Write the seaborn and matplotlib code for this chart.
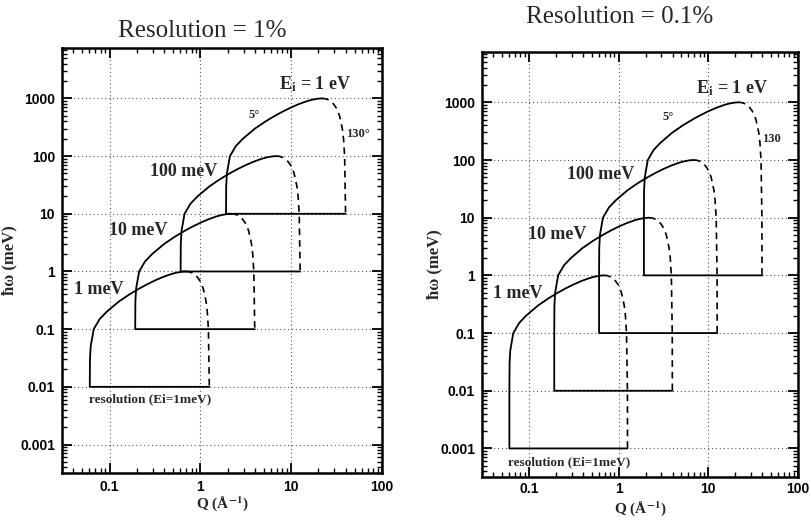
import matplotlib
matplotlib.use("Agg")
import matplotlib.pyplot as plt
import matplotlib.ticker as mticker
import seaborn as sns
import pandas as pd

# ---------------- data ----------------
incident_labels = ["1 meV", "10 meV", "100 meV", "E$_\\mathregular{i}$ = 1 eV"]

# 5 degree branch (solid): Q in 1/Angstrom, energy transfer in meV
q5_1 = [0.0606, 0.0606, 0.0609, 0.0620, 0.0670, 0.0780, 0.0931, 0.1263, 0.1654, 0.2097,
        0.2598, 0.3174, 0.3862, 0.4762, 0.5401, 0.6255, 0.6947]
w5_1 = [0.001, 0.01, 0.03, 0.05, 0.1, 0.15, 0.2, 0.3, 0.4, 0.5, 0.6, 0.7, 0.8, 0.9, 0.95, 0.99, 1.0]
q5_10 = [0.1918, 0.1918, 0.1926, 0.1961, 0.2119, 0.2467, 0.2944, 0.3994, 0.5231, 0.6632,
         0.8216, 1.0037, 1.2212, 1.5059, 1.7080, 1.9780, 2.1968]
w5_10 = [0.01, 0.1, 0.3, 0.5, 1, 1.5, 2, 3, 4, 5, 6, 7, 8, 9, 9.5, 9.9, 10]
q5_100 = [0.6065, 0.6065, 0.6090, 0.6200, 0.6700, 0.7800, 0.9309, 1.2630, 1.6541, 2.0973,
          2.5982, 3.1741, 3.8618, 4.7622, 5.4013, 6.2551, 6.947]
w5_100 = [0.1, 1, 3, 5, 10, 15, 20, 30, 40, 50, 60, 70, 80, 90, 95, 99, 100]
q5_1000 = [1.9178, 1.9178, 1.9260, 1.9610, 2.1190, 2.4670, 2.9437, 3.9938, 5.2306, 6.6321,
           8.2160, 10.037, 12.212, 15.059, 17.080, 19.780, 21.968]
w5_1000 = [1, 10, 30, 50, 100, 150, 200, 300, 400, 500, 600, 700, 800, 900, 950, 990, 1000]

# 130 degree branch (dashed)
q130_1 = [0.6947, 0.7412, 0.7616, 0.8034, 0.8527, 0.9255, 0.9835, 1.0334, 1.0782, 1.1574,
          1.1931, 1.2270, 1.2561, 1.2589]
w130_1 = [1.0, 0.99, 0.98, 0.95, 0.9, 0.8, 0.7, 0.6, 0.5, 0.3, 0.2, 0.1, 0.01, 0.001]
q130_10 = [2.1968, 2.3440, 2.4084, 2.5406, 2.6964, 2.9268, 3.1100, 3.2679, 3.4096, 3.6599,
           3.7730, 3.8802, 3.9720, 3.9810]
w130_10 = [10, 9.9, 9.8, 9.5, 9, 8, 7, 6, 5, 3, 2, 1, 0.1, 0.01]
q130_100 = [6.947, 7.412, 7.616, 8.034, 8.527, 9.255, 9.835, 10.334, 10.782, 11.574,
            11.931, 12.270, 12.561, 12.589]
w130_100 = [100, 99, 98, 95, 90, 80, 70, 60, 50, 30, 20, 10, 1, 0.1]
q130_1000 = [21.968, 23.440, 24.084, 25.406, 26.964, 29.268, 31.100, 32.679, 34.096, 36.599,
             37.730, 38.802, 39.720, 39.810]
w130_1000 = [1000, 990, 980, 950, 900, 800, 700, 600, 500, 300, 200, 100, 10, 1]

branch5 = [(q5_1, w5_1), (q5_10, w5_10), (q5_100, w5_100), (q5_1000, w5_1000)]
branch130 = [(q130_1, w130_1), (q130_10, w130_10), (q130_100, w130_100), (q130_1000, w130_1000)]

titles = ["Resolution = 1%", "Resolution = 0.1%"]
# index into each branch where the resolution floor lies (1% -> second point, 0.1% -> first point)
start_index = [1, 0]

x_ticks = [0.1, 1, 10, 100]
x_ticklabels = ["0.1", "1", "10", "100"]
y_ticks = [0.001, 0.01, 0.1, 1, 10, 100, 1000]
y_ticklabels = ["0.001", "0.01", "0.1", "1", "10", "100", "1000"]

# label positions (Q, E) for each panel
label_pos = [
    [(0.076, 0.49), (0.205, 5.1), (0.66, 55), (18.5, 1750)],
    [(0.076, 0.49), (0.205, 5.1), (0.63, 55), (18.5, 1750)],
]
angle_small_pos = [(3.9, 520), (3.6, 560)]
angle_large_pos = [(40, 240), (40, 230)]
angle_large_text = ["130°", "130"]
res_label_pos = [(0.28, 0.0062), (0.28, 0.00058)]

# ---------------- plotting ----------------
sns.set_theme(style="white")
plt.rcParams["font.family"] = ["Liberation Serif", "DejaVu Serif"]
plt.rcParams["mathtext.fontset"] = "stix"

fig = plt.figure(figsize=(8.12, 5.21), dpi=100)
axes = [fig.add_axes([0.0764, 0.092, 0.394, 0.816]),
        fig.add_axes([0.5936, 0.0845, 0.389, 0.816])]
ylabel_x = [-0.14, -0.125]
xlabel_y = [-0.05, -0.053]
xtick_pad = [5, 3.5]

for p, ax in enumerate(axes):
    s = start_index[p]
    for (q5, w5), (q130, w130) in zip(branch5, branch130):
        end = len(q130) - 1 - s  # last dashed point at the resolution floor
        # solid: horizontal floor + 5 degree branch
        qs = [q130[end]] + q5[s:]
        ws = [w5[s]] + w5[s:]
        df_s = pd.DataFrame({"Q": qs, "E": ws})
        sns.lineplot(data=df_s, x="Q", y="E", sort=False, estimator=None, ax=ax,
                     color="black", linewidth=1.3)
        df_d = pd.DataFrame({"Q": q130[:end + 1], "E": w130[:end + 1]})
        sns.lineplot(data=df_d, x="Q", y="E", sort=False, estimator=None, ax=ax,
                     color="black", linewidth=1.2, linestyle=(0, (4, 3)))

    ax.set_xscale("log")
    ax.set_yscale("log")
    ax.set_xlim(0.03, 100)
    ax.set_ylim(3.2e-4, 7500)
    ax.set_xticks(x_ticks)
    ax.set_xticklabels(x_ticklabels)
    ax.set_yticks(y_ticks)
    ax.set_yticklabels(y_ticklabels)
    ax.xaxis.set_minor_locator(mticker.LogLocator(base=10, subs=range(2, 10), numticks=20))
    ax.yaxis.set_minor_locator(mticker.LogLocator(base=10, subs=range(2, 10), numticks=20))
    ax.xaxis.set_minor_formatter(mticker.NullFormatter())
    ax.yaxis.set_minor_formatter(mticker.NullFormatter())
    ax.tick_params(which="major", direction="in", length=7, width=1.3, colors="black",
                   bottom=True, left=True, top=True, right=True, labelsize=10, pad=5)
    ax.tick_params(axis="x", which="major", pad=xtick_pad[p])
    ax.tick_params(which="minor", direction="in", length=3.5, width=1.0, colors="black",
                   bottom=True, left=True, top=True, right=True)
    for lab in ax.get_xticklabels() + ax.get_yticklabels():
        lab.set_fontfamily(["Liberation Sans", "DejaVu Sans"])
        lab.set_fontweight("bold")
    ax.grid(True, which="major", color="#555555", linestyle=(0, (1, 2.5)), linewidth=0.8)
    for sp in ax.spines.values():
        sp.set_color("black")
        sp.set_linewidth(1.8)
    ax.set_xlabel("Q (Å$^{\\mathbf{-1}}$)", fontsize=11, fontweight="bold")
    ax.set_ylabel("ħω (meV)", fontsize=12, fontweight="bold")
    ax.yaxis.set_label_coords(ylabel_x[p], 0.5)
    ax.xaxis.set_label_coords(0.5, xlabel_y[p])

    for text, (qx, ey) in zip(incident_labels, label_pos[p]):
        ax.text(qx, ey, text, fontsize=13, fontweight="bold", ha="center", va="center")
    ax.text(*angle_small_pos[p], "5°", fontsize=9, fontweight="bold", ha="center", va="center")
    ax.text(*angle_large_pos[p], angle_large_text[p], fontsize=9, fontweight="bold",
            ha="left", va="center")
    ax.text(*res_label_pos[p], "resolution (Ei=1meV)", fontsize=9.5, fontweight="bold",
            ha="center", va="center")

fig.text(0.2488, 0.940, titles[0], fontsize=18, ha="center", va="center")
fig.text(0.7635, 0.968, titles[1], fontsize=18, ha="center", va="center")

fig.savefig("out.png", dpi=100)
